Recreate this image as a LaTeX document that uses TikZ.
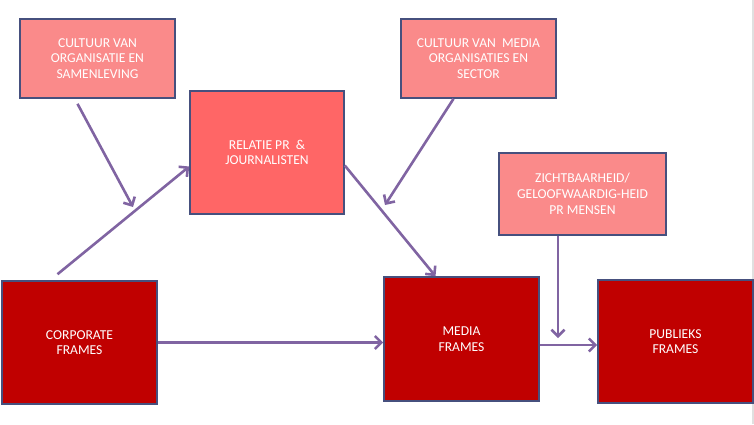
\documentclass[tikz,border=0pt]{standalone}
\usepackage{fontspec}
\setmainfont{Carlito}
\usetikzlibrary{arrows.meta,positioning,calc}
\definecolor{boxline}{HTML}{46507E}
\definecolor{ctxfill}{HTML}{FA8A8A}
\definecolor{relfill}{HTML}{FF6666}
\definecolor{frmfill}{HTML}{C00000}
\definecolor{arrcol}{HTML}{8064A2}

\begin{document}
\begin{tikzpicture}[x=1pt, y=-1pt,
  ctx/.style={draw=boxline, line width=1.6pt, fill=ctxfill, text=white, align=center, inner sep=0pt, font=\fontsize{13.6}{15.7}\selectfont},
  rel/.style={ctx, fill=relfill, minimum width=154pt, minimum height=123pt},
  frm/.style={ctx, fill=frmfill, minimum width=155pt, minimum height=123pt},
  arr/.style={-{Straight Barb[length=6.5pt, width=13pt]}, line width=2.6pt, arrcol}]

\useasboundingbox (0,0) rectangle (754,424);
\fill[black!12] (751.5,0) rectangle (754,424);

%% ── context boxes ──────────────────────────────────────
\node[ctx, minimum width=155pt, minimum height=79pt] (cultorg) at (97.5,58.5)
  {CULTUUR VAN\\ORGANISATIE EN\\SAMENLEVING};
\node[ctx, minimum width=155pt, minimum height=79pt] (cultmedia) at (478.5,58.5)
  {CULTUUR VAN~~MEDIA\\ORGANISATIES EN\\SECTOR};
\node[ctx, minimum width=167pt, minimum height=82pt] (zicht) at (582.5,194)
  {ZICHTBAARHEID/\\GELOOFWAARDIG-HEID\\PR MENSEN};
\node[rel] (relatie) at (267,152.5) {RELATIE PR~~\&\\JOURNALISTEN};

%% ── frames ─────────────────────────────────────────────
\node[frm] (corp) at (79.5,342.5) {CORPORATE\\FRAMES};
\node[frm, minimum height=124pt] (media) at (461.5,339) {MEDIA\\FRAMES};
\node[frm] (publiek) at (675.5,341.5) {PUBLIEKS\\FRAMES};

%% free arrow ends
\coordinate (k1) at (133,207);
\coordinate (k2) at (385,205);
\coordinate (k3) at (558,338);

%% ── arrows ─────────────────────────────────────────────
\draw[arr] ([xshift=-20pt, yshift=-5pt]cultorg.south) -- (k1);
\draw[arr] ([xshift=-22pt, yshift=6pt]corp.north) -- ([yshift=-14pt]relatie.west);
\draw[arr] ([xshift=-25pt]cultmedia.south) -- (k2);
\draw[arr] ([yshift=-13pt]relatie.east) -- ([xshift=-26pt]media.north);
\draw[arr] (corp.east) -- (corp.east -| media.west);
\draw[arr] ([xshift=-24.5pt]zicht.south) -- (k3);
\draw[arr] ([yshift=-6pt]media.east) -- ([yshift=-6pt]media.east -| publiek.west);
\end{tikzpicture}
\end{document}
